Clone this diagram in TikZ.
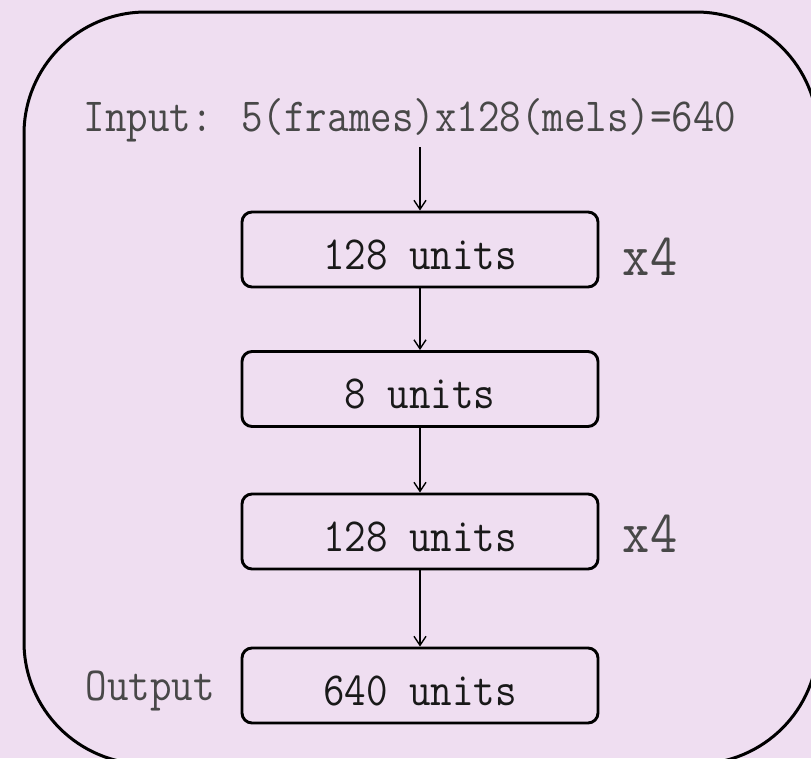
\documentclass[tikz,border=0pt]{standalone}
\usepackage{fontspec}
\usetikzlibrary{arrows.meta}
\newfontfamily\unitfont[FakeStretch=0.88]{Latin Modern Mono}
\definecolor{panelbg}{RGB}{239,222,241}
\definecolor{labelgrey}{RGB}{72,72,72}
\definecolor{inktext}{RGB}{25,25,25}
\tikzset{
  layerbox/.style={draw=black, line width=2.9pt, rounded corners=10pt,
    minimum width=356pt, minimum height=75pt, inner sep=0pt,
    text height=39pt, text depth=0pt, text=inktext,
    font=\unitfont\fontsize{47.5}{50}\selectfont},
  sidelabel/.style={inner sep=0pt, text=labelgrey,
    font=\unitfont\fontsize{47.5}{50}\selectfont},
  repeatlabel/.style={inner sep=0pt, text=labelgrey,
    font=\unitfont\fontsize{60}{64}\selectfont},
  flow/.style={draw=black, line width=1.4pt,
    -{Straight Barb[length=9pt,width=12pt,line width=1.4pt]}}
}
\begin{document}
\begin{tikzpicture}[x=1pt,y=-1pt]
  \useasboundingbox (0,0) rectangle (811,758);
  \fill[panelbg] (0,0) rectangle (811,758);
  \clip (0,0) rectangle (811,758);
  % outer frame, partly running off the page edges
  \draw[line width=3pt, rounded corners=122pt] (24,12) rectangle (818,764);

  % input description
  \node[sidelabel, anchor=base] (input) at (410,131) {Input: 5(frames)x128(mels)=640};
  \coordinate (inputfoot) at (420,147);

  % layer stack
  \node[layerbox] (enc) at (420,249.5) {128 units};
  \node[layerbox] (code) at (420,389) {8 units};
  \node[layerbox] (dec) at (420,531.5) {128 units};
  \node[layerbox] (out) at (420,685.5) {640 units};

  % repetition counts and output tag
  \node[repeatlabel, anchor=base] (encrep) at (650,275) {x4};
  \node[repeatlabel, anchor=base] (decrep) at (650,552) {x4};
  \node[sidelabel, anchor=base east] (outtag) at (215,700) {Output};

  % data flow
  \draw[flow] (inputfoot) -- (enc.north);
  \draw[flow] (enc.south) -- (code.north);
  \draw[flow] (code.south) -- (dec.north);
  \draw[flow] (dec.south) -- (out.north);
\end{tikzpicture}
\end{document}
